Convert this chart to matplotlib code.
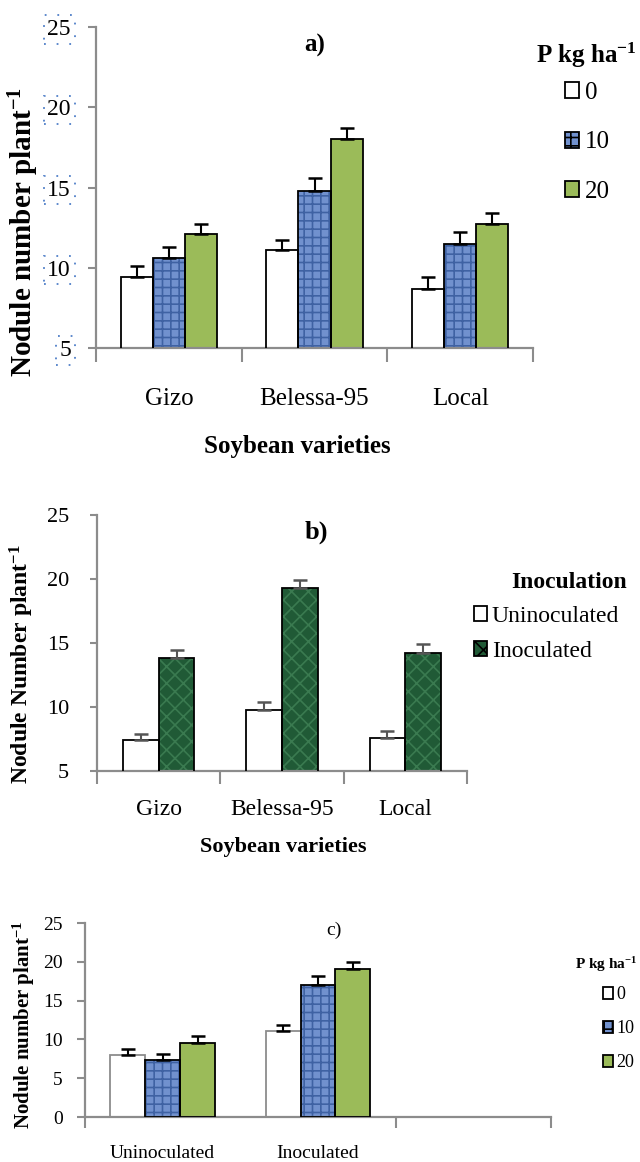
import matplotlib
matplotlib.use("Agg")
import matplotlib.pyplot as plt
from matplotlib.patches import Patch
import numpy as np

plt.rcParams['font.family'] = ['Liberation Serif', 'DejaVu Serif']
plt.rcParams['mathtext.default'] = 'regular'
plt.rcParams['hatch.linewidth'] = 1.2

W, H = 640, 1162

# ---------------- data ----------------
varieties = ["Gizo", "Belessa-95", "Local"]
p_levels = ["0", "10", "20"]
a_p0 = [9.4, 11.1, 8.7]
a_p0_err = [0.7, 0.6, 0.7]
a_p10 = [10.6, 14.8, 11.5]
a_p10_err = [0.7, 0.8, 0.7]
a_p20 = [12.1, 18.0, 12.7]
a_p20_err = [0.6, 0.7, 0.7]

inoc_levels = ["Uninoculated", "Inoculated"]
b_unin = [7.4, 9.8, 7.6]
b_unin_err = [0.5, 0.6, 0.5]
b_inoc = [13.85, 19.3, 14.2]
b_inoc_err = [0.6, 0.6, 0.7]

c_categories = ["Uninoculated", "Inoculated", ""]
c_p0 = [8.0, 11.1]
c_p0_err = [0.7, 0.7]
c_p10 = [7.35, 17.0]
c_p10_err = [0.75, 1.2]
c_p20 = [9.55, 19.1]
c_p20_err = [0.85, 0.9]

y_ticks_ab = [5, 10, 15, 20, 25]
y_ticks_c = [0, 5, 10, 15, 20, 25]

# ---------------- styles ----------------
WHITE = dict(fc="white", hatch=None, hc="white")
BLUE = dict(fc="#7191CE", hatch="++", hc="#3F62A3")
GREEN = dict(fc="#9BBB59", hatch=None, hc="#9BBB59")
DKGREEN = dict(fc="#205A36", hatch="xx", hc="#3A7A50")
GRAY = "#8C8C8C"


def fx(px):
    return px / W


def fy(py):
    return 1 - py / H


def axes_px(left, top, right, bottom):
    return fig.add_axes([fx(left), fy(bottom), (right - left) / W, (bottom - top) / H])


def draw_bars(ax, x, vals, errs, st, width, edge="black", ecol="black", lw=1.3):
    ax.bar(x, vals, width, color=st["fc"], edgecolor=st["hc"], hatch=st["hatch"],
           linewidth=0, zorder=2)
    ax.bar(x, vals, width, fill=False, edgecolor=edge, linewidth=lw, zorder=3)
    ax.errorbar(x, vals, yerr=[np.zeros(len(vals)), errs], fmt="none", ecolor=ecol,
                elinewidth=1.5, capsize=5, capthick=1.8, zorder=4)


def style_axes(ax, ylim, yticks, ncat, tick_bounds, ylab_size, yticklen=6, xticklen=9):
    ax.set_ylim(*ylim)
    ax.set_xlim(-0.5, ncat - 0.5)
    for s in ("top", "right"):
        ax.spines[s].set_visible(False)
    for s in ("left", "bottom"):
        ax.spines[s].set_color(GRAY)
        ax.spines[s].set_linewidth(1.6)
    ax.set_yticks(yticks)
    ax.tick_params(axis="y", direction="out", length=yticklen, width=1.5, color=GRAY,
                   labelsize=ylab_size)
    ax.set_xticks(tick_bounds, minor=True)
    ax.tick_params(axis="x", which="minor", direction="out", length=xticklen, width=1.5,
                   color=GRAY)
    ax.patch.set_alpha(0)


def legend_handle(st, edge="black"):
    return Patch(facecolor=st["fc"], edgecolor=edge, hatch=st["hatch"], linewidth=1.3)


fig = plt.figure(figsize=(W / 100, H / 100), dpi=100)

# ================= panel a =================
axa = axes_px(96, 27, 533, 348)
x = np.arange(len(varieties))
bw = 0.22
draw_bars(axa, x - bw, a_p0, a_p0_err, WHITE, bw)
draw_bars(axa, x, a_p10, a_p10_err, BLUE, bw)
draw_bars(axa, x + bw, a_p20, a_p20_err, GREEN, bw)
style_axes(axa, (5, 25), y_ticks_ab, 3, [-0.5, 0.5, 1.5, 2.5], 17, xticklen=10)
axa.tick_params(axis="y", pad=12)
for lab in axa.get_yticklabels():
    lab.set_bbox(dict(boxstyle="square,pad=0.15", fc="none", ec="#4F7FC8",
                      ls=(0, (1, 6)), lw=1.3))
axa.set_xticks(x)
axa.set_xticklabels(varieties, fontsize=18)
axa.tick_params(axis="x", which="major", length=0, pad=29)
fig.text(fx(24), fy(232), "Nodule number plant$^{-1}$", rotation=90, fontsize=21,
         fontweight="bold", ha="center", va="center")
fig.text(fx(297), fy(447), "Soybean varieties", fontsize=18, fontweight="bold",
         ha="center", va="center")
fig.text(fx(315), fy(45), "a)", fontsize=18, fontweight="bold", ha="center", va="center")
fig.text(fx(586), fy(55), "P kg ha$^{-1}$", fontsize=18, fontweight="bold",
         ha="center", va="center")
la = axa.legend([legend_handle(WHITE), legend_handle(BLUE), legend_handle(GREEN)], p_levels,
                loc="upper left", bbox_to_anchor=(fx(565), fy(82)),
                bbox_transform=fig.transFigure, frameon=False, fontsize=18,
                borderpad=0, borderaxespad=0, labelspacing=1.1,
                handlelength=0.55, handleheight=0.6, handletextpad=0.25)

# ================= panel b =================
axb = axes_px(97, 515, 467, 771)
bw2 = 0.29
draw_bars(axb, x - bw2 / 2, b_unin, b_unin_err, WHITE, bw2, ecol="#555555")
draw_bars(axb, x + bw2 / 2, b_inoc, b_inoc_err, DKGREEN, bw2, ecol="#555555")
style_axes(axb, (5, 25), y_ticks_ab, 3, [-0.5, 0.5, 1.5, 2.5], 16, yticklen=5, xticklen=9)
axb.tick_params(axis="y", pad=15)
axb.set_xticks(x)
axb.set_xticklabels(varieties, fontsize=17)
axb.tick_params(axis="x", which="major", length=0, pad=20)
fig.text(fx(22), fy(664), "Nodule Number plant$^{-1}$", rotation=90, fontsize=17,
         fontweight="bold", ha="center", va="center")
fig.text(fx(283), fy(847), "Soybean varieties", fontsize=16, fontweight="bold",
         ha="center", va="center")
fig.text(fx(316), fy(532), "b)", fontsize=19, fontweight="bold", ha="center", va="center")
fig.text(fx(569), fy(583), "Inoculation", fontsize=17, fontweight="bold",
         ha="center", va="center")
lb = axb.legend([legend_handle(WHITE), legend_handle(DKGREEN)], inoc_levels,
                loc="upper left", bbox_to_anchor=(fx(474), fy(606)),
                bbox_transform=fig.transFigure, frameon=False, fontsize=17,
                borderpad=0, borderaxespad=0, labelspacing=0.6,
                handlelength=0.55, handleheight=0.6, handletextpad=0.2)

# ================= panel c =================
axc = axes_px(85, 923, 551, 1117)
xc = np.arange(len(c_p0))
bw3 = 0.225
draw_bars(axc, xc - bw3, c_p0, c_p0_err, WHITE, bw3, edge=GRAY)
draw_bars(axc, xc, c_p10, c_p10_err, BLUE, bw3)
draw_bars(axc, xc + bw3, c_p20, c_p20_err, GREEN, bw3)
style_axes(axc, (0, 25), y_ticks_c, 3, [-0.5, 1.5, 2.5], 14, yticklen=6, xticklen=8)
axc.tick_params(axis="y", pad=10)
axc.set_xticks(np.arange(len(c_categories)))
axc.set_xticklabels(c_categories, fontsize=14)
axc.tick_params(axis="x", which="major", length=0, pad=20)
fig.text(fx(24), fy(1025), "Nodule number plant$^{-1}$", rotation=90, fontsize=15,
         fontweight="bold", ha="center", va="center")
fig.text(fx(334), fy(930), "c)", fontsize=14, ha="center", va="center")
fig.text(fx(606), fy(965), "P kg ha$^{-1}$", fontsize=11, fontweight="bold",
         ha="center", va="center")
lc = axc.legend([legend_handle(WHITE), legend_handle(BLUE), legend_handle(GREEN)], p_levels,
                loc="upper left", bbox_to_anchor=(fx(603), fy(986)),
                bbox_transform=fig.transFigure, frameon=False, fontsize=13,
                borderpad=0, borderaxespad=0, labelspacing=0.95,
                handlelength=0.55, handleheight=0.65, handletextpad=0.2)

fig.savefig("out.png", dpi=100)
